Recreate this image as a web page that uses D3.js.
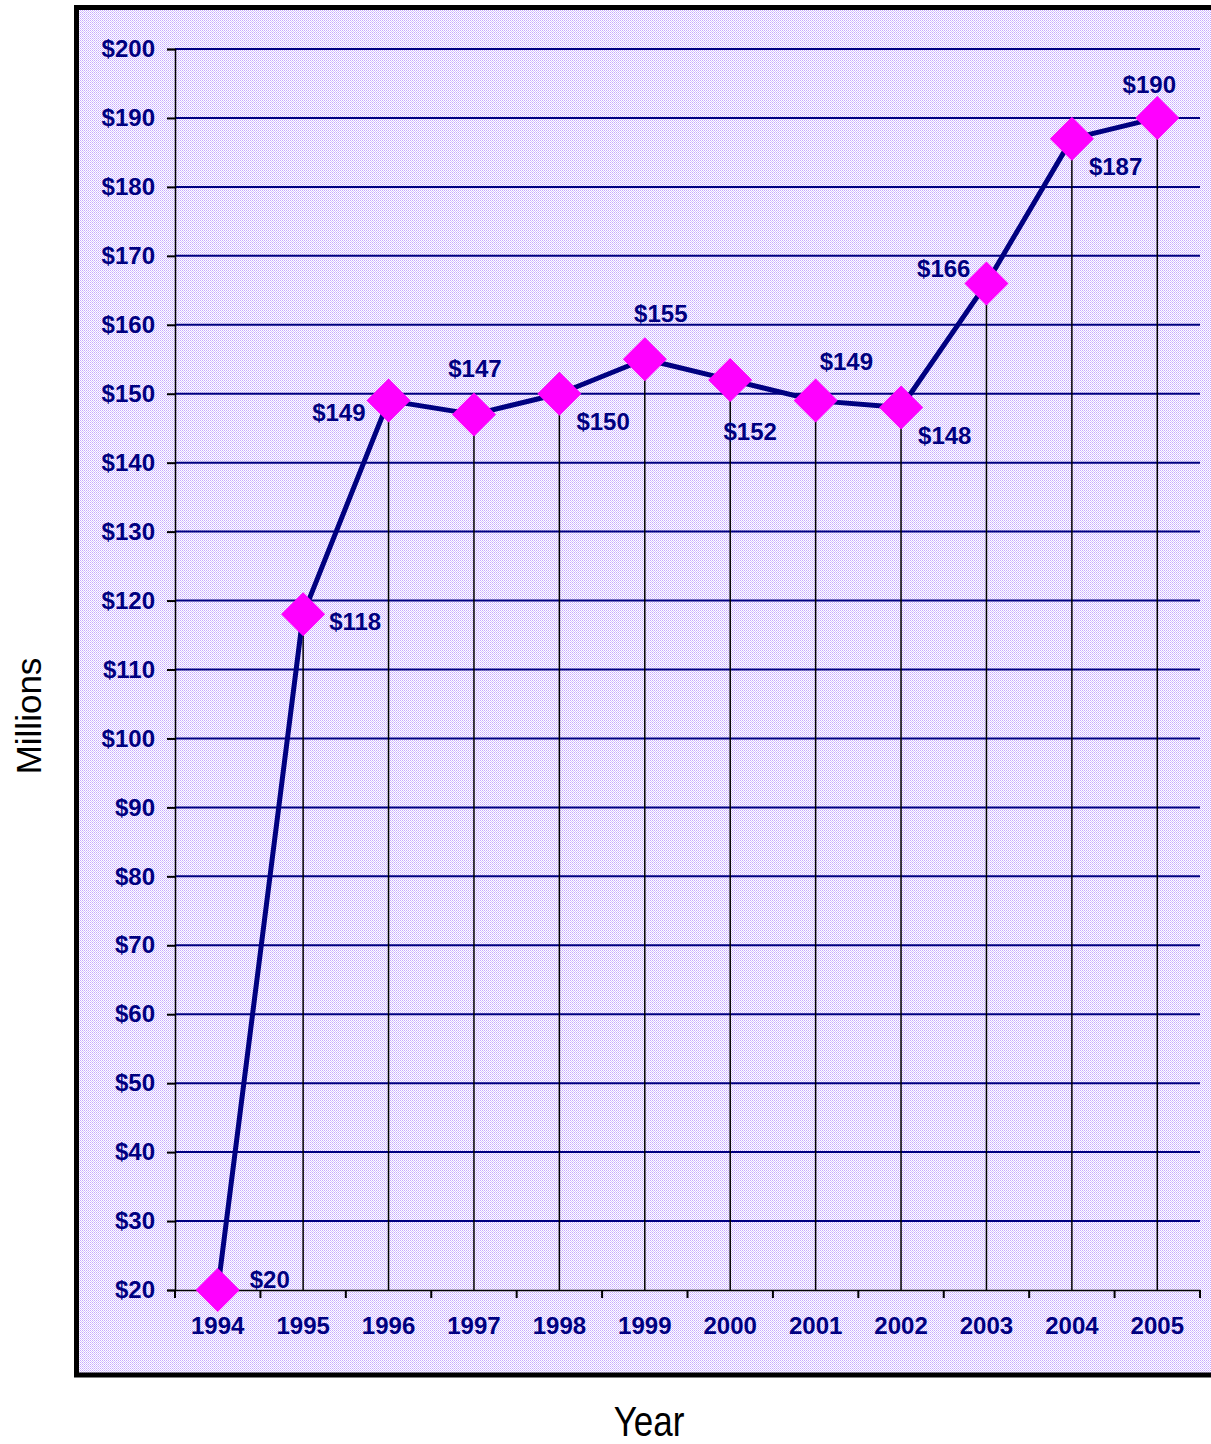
<!DOCTYPE html>
<html>
<head>
<meta charset="utf-8">
<script src="https://cdn.jsdelivr.net/npm/d3@7"></script>
<style>
  body { margin: 0; background: #fff; }
  text { font-family: Arial, "Liberation Sans", sans-serif; }
</style>
</head>
<body>
<svg id="chart" width="1211" height="1444"></svg>
<script>
// data
const years = ["1994", "1995", "1996", "1997", "1998", "1999", "2000", "2001", "2002", "2003", "2004", "2005"];
const values = [20, 118, 149, 147, 150, 155, 152, 149, 148, 166, 187, 190];
const labelPos = ["right", "rightLow", "left", "above", "belowRight", "aboveShift", "below", "aboveRight", "belowRight", "leftHigh", "belowRight", "aboveLeft"];
const yTicks = [20, 30, 40, 50, 60, 70, 80, 90, 100, 110, 120, 130, 140, 150, 160, 170, 180, 190, 200];

const svg = d3.select("#chart");
const navy = "#000080";
const fs = 24;

// checker pattern for the plot background
const defs = svg.append("defs");
const pat = defs.append("pattern")
  .attr("id", "dots")
  .attr("width", 2).attr("height", 2)
  .attr("patternUnits", "userSpaceOnUse");
pat.append("rect").attr("width", 2).attr("height", 2).attr("fill", "#ffffff");
pat.append("rect").attr("width", 1).attr("height", 1).attr("fill", "#c7a9ff");
pat.append("rect").attr("x", 1).attr("y", 1).attr("width", 1).attr("height", 1).attr("fill", "#d8c6ff");

// frame
svg.append("rect")
  .attr("x", 76.5).attr("y", 7.5)
  .attr("width", 1150).attr("height", 1367.5)
  .attr("fill", "url(#dots)")
  .attr("stroke", "#000").attr("stroke-width", 5);

const mLeft = 175, mRight = 1200, mTop = 49, mBottom = 1290;

const x = d3.scaleBand().domain(years).range([mLeft, mRight]);
const y = d3.scaleLinear().domain([20, 200]).range([mBottom, mTop]);

// horizontal gridlines
svg.append("g")
  .selectAll("line")
  .data(yTicks.slice(1))
  .join("line")
  .attr("x1", mLeft).attr("x2", mRight)
  .attr("y1", d => y(d)).attr("y2", d => y(d))
  .attr("stroke", navy).attr("stroke-width", 2);

// y axis
const yAxis = svg.append("g")
  .attr("transform", `translate(${mLeft},0)`)
  .call(d3.axisLeft(y).tickValues(yTicks).tickSize(8).tickPadding(12).tickFormat(d => "$" + d));
yAxis.select(".domain").attr("stroke", "#000").attr("stroke-width", 1.5);
yAxis.selectAll(".tick line").attr("stroke", "#000").attr("stroke-width", 2);
yAxis.selectAll(".tick text")
  .attr("fill", navy).attr("font-size", fs).attr("font-weight", "bold")
  .attr("font-family", "Arial, 'Liberation Sans', sans-serif");

// drop lines
svg.append("g")
  .selectAll("line")
  .data(years)
  .join("line")
  .attr("x1", d => x(d) + x.bandwidth() / 2)
  .attr("x2", d => x(d) + x.bandwidth() / 2)
  .attr("y1", (d, i) => y(values[i]))
  .attr("y2", mBottom)
  .attr("stroke", "#000").attr("stroke-width", 1.5);

// x axis
const xAxis = svg.append("g")
  .attr("transform", `translate(0,${mBottom})`)
  .call(d3.axisBottom(x).tickSize(0).tickPadding(27));
xAxis.select(".domain").attr("stroke", "#000").attr("stroke-width", 1.5);
xAxis.selectAll(".tick text")
  .attr("fill", navy).attr("font-size", fs).attr("font-weight", "bold")
  .attr("font-family", "Arial, 'Liberation Sans', sans-serif");

// tick marks between categories
const bounds = years.map(d => x(d)).concat([mRight]);
svg.append("g")
  .selectAll("line")
  .data(bounds)
  .join("line")
  .attr("x1", d => d).attr("x2", d => d)
  .attr("y1", mBottom).attr("y2", mBottom + 8)
  .attr("stroke", "#000").attr("stroke-width", 2);

// line
const pts = years.map((d, i) => [x(d) + x.bandwidth() / 2, y(values[i])]);
svg.append("path")
  .datum(pts)
  .attr("d", d3.line())
  .attr("fill", "none")
  .attr("stroke", navy).attr("stroke-width", 5)
  .attr("stroke-linejoin", "round");

// markers
const r = 22;
svg.append("g")
  .selectAll("path")
  .data(pts)
  .join("path")
  .attr("d", d => `M${d[0]},${d[1] - r}L${d[0] + r},${d[1]}L${d[0]},${d[1] + r}L${d[0] - r},${d[1]}Z`)
  .attr("fill", "#ff00ff");

// data labels: dx, dy of label centre, anchor
const offsets = {
  right: [32, -11, "start"],
  rightLow: [26, 7, "start"],
  left: [-23, 12, "end"],
  leftHigh: [-16, -15, "end"],
  above: [1, -46, "middle"],
  aboveShift: [16, -46, "middle"],
  aboveLeft: [-8, -34, "middle"],
  aboveRight: [4, -39, "start"],
  below: [20, 51, "middle"],
  belowRight: [17, 28, "start"]
};
svg.append("g")
  .selectAll("text")
  .data(pts)
  .join("text")
  .attr("x", (d, i) => d[0] + offsets[labelPos[i]][0])
  .attr("y", (d, i) => d[1] + offsets[labelPos[i]][1] + fs * 0.36)
  .attr("text-anchor", (d, i) => offsets[labelPos[i]][2])
  .attr("fill", navy).attr("font-size", fs).attr("font-weight", "bold")
  .text((d, i) => "$" + values[i]);

// axis titles
svg.append("text")
  .attr("transform", "translate(41,716) rotate(-90)")
  .attr("text-anchor", "middle")
  .attr("font-size", 35)
  .attr("fill", "#000")
  .text("Millions");

svg.append("text")
  .attr("transform", "translate(649,1436) scale(1,1.2)")
  .attr("text-anchor", "middle")
  .attr("font-size", 35)
  .attr("fill", "#000")
  .text("Year");
</script>
</body>
</html>
